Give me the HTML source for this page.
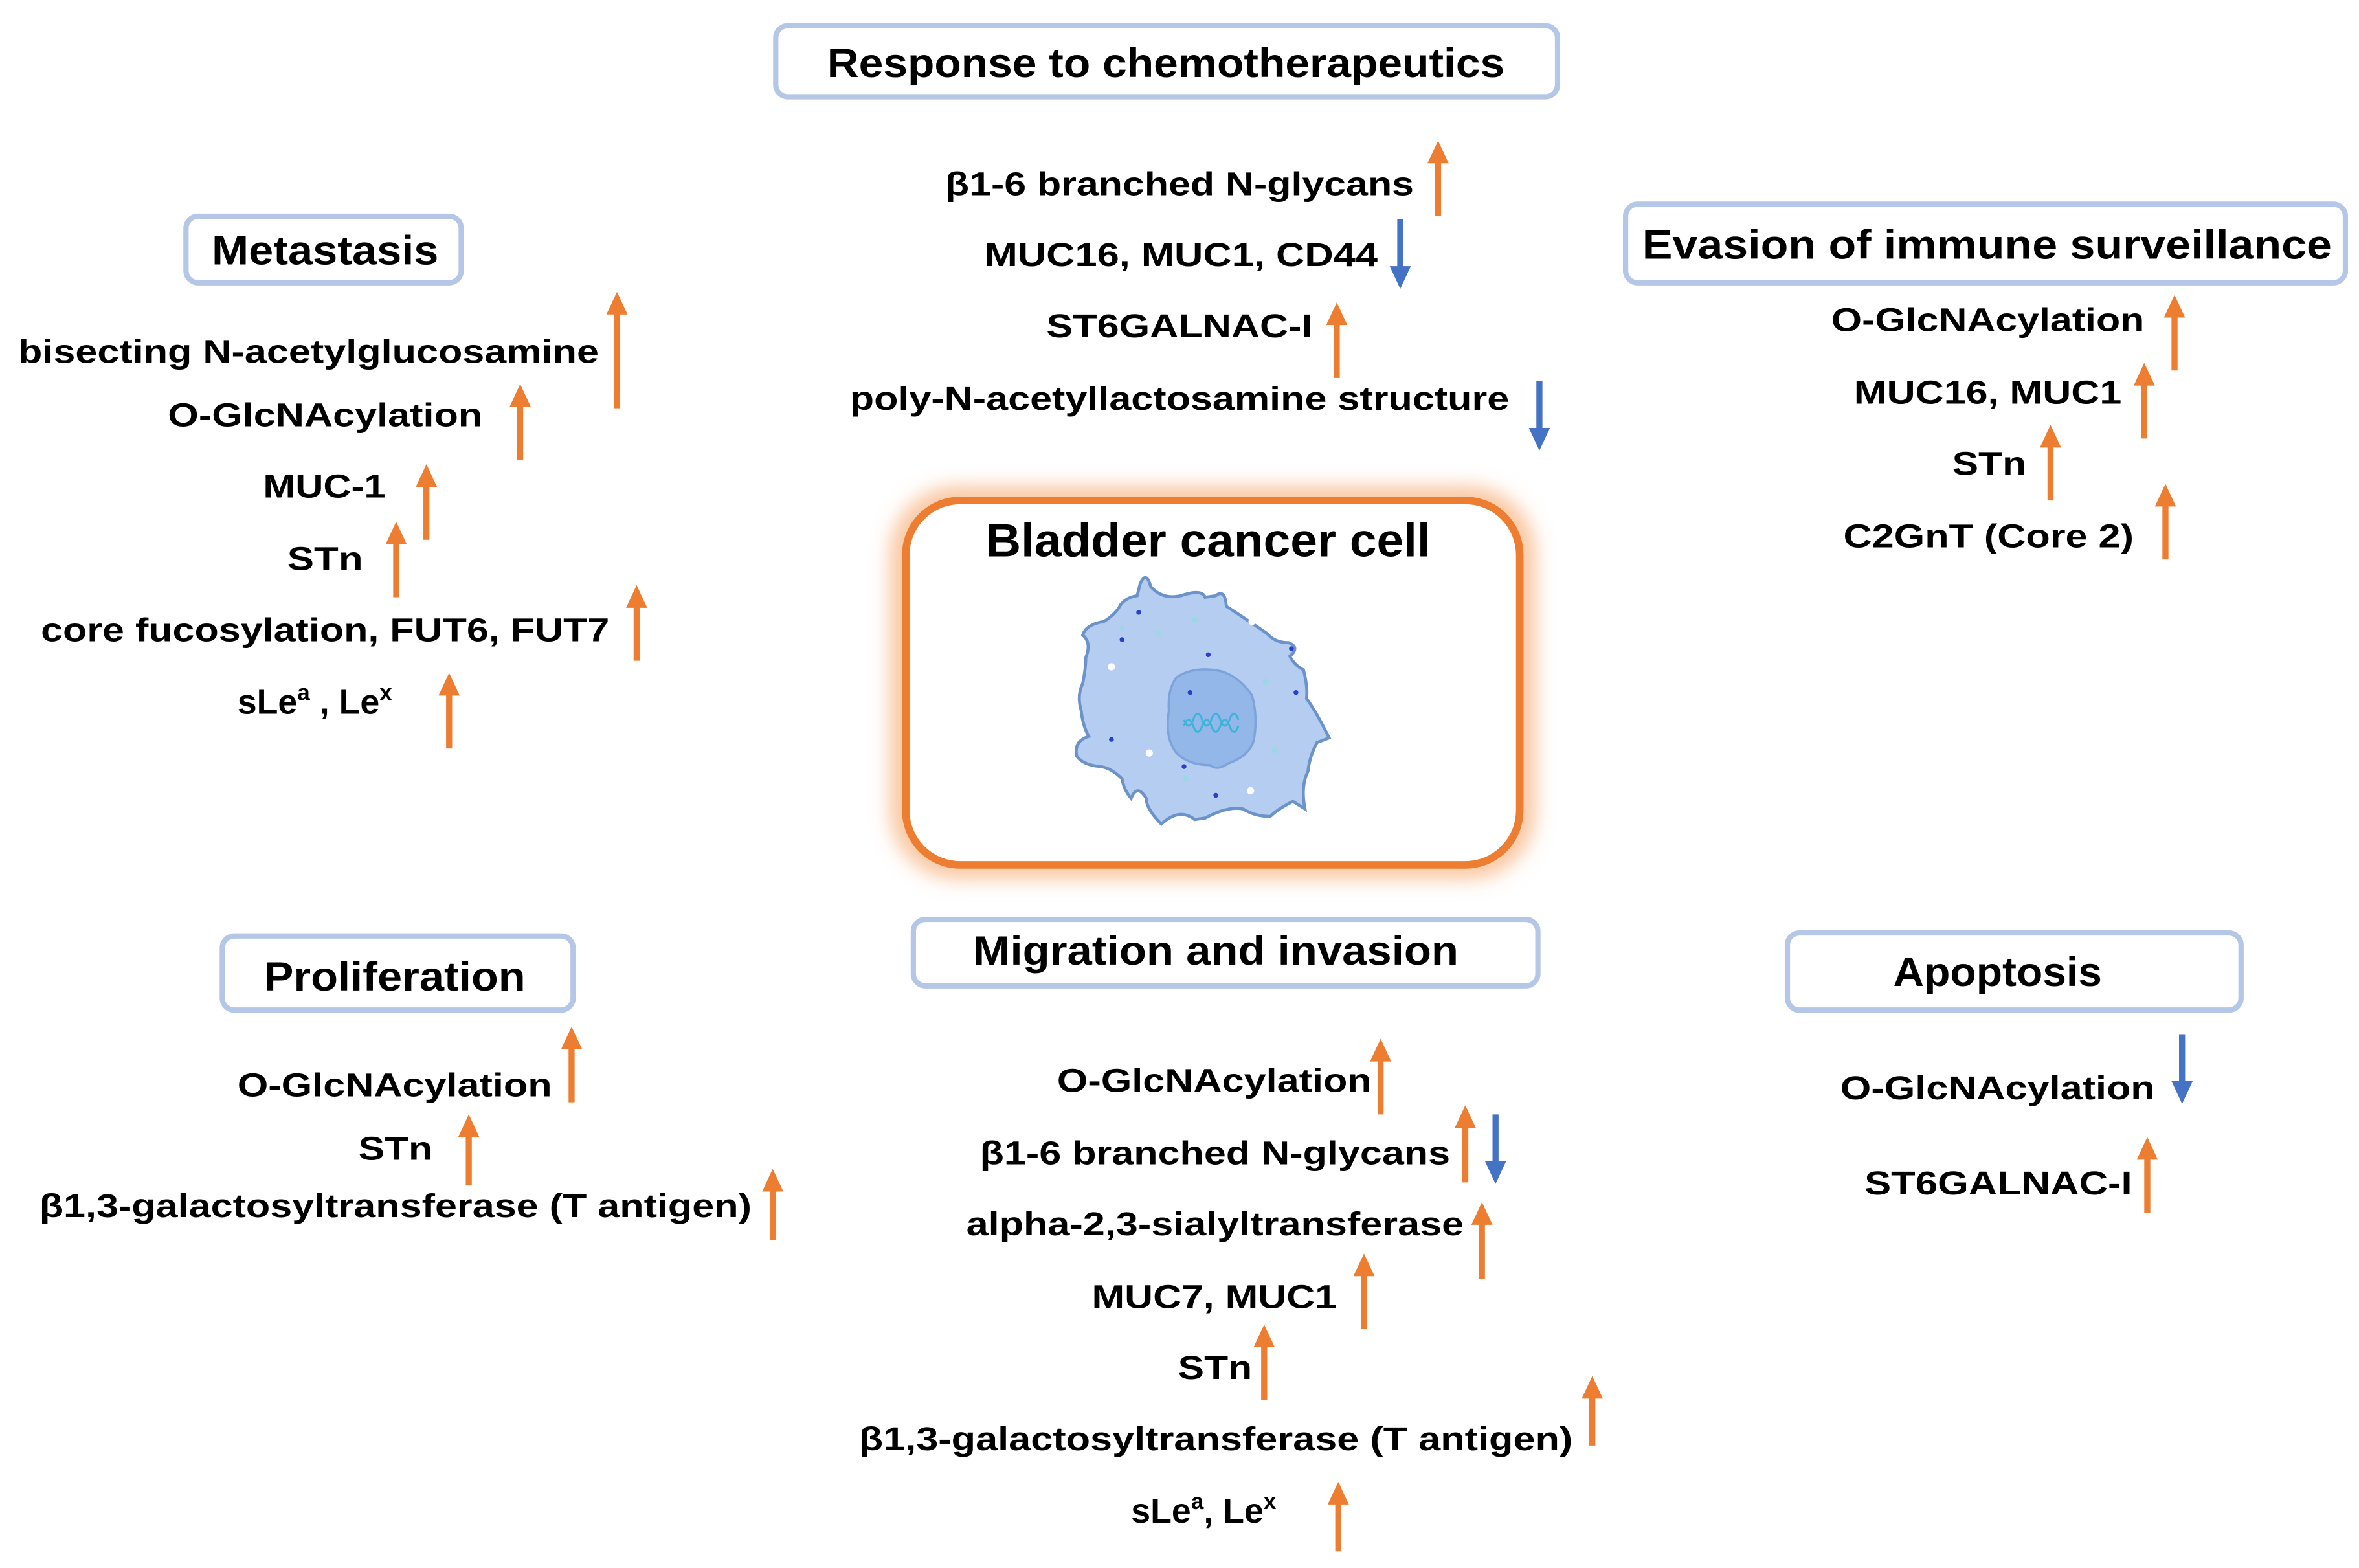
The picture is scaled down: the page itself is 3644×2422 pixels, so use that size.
<!DOCTYPE html>
<html><head><meta charset="utf-8"><style>
html,body{margin:0;padding:0;background:#fff;}
svg{display:block;}
text{font-family:"Liberation Sans",Arial,sans-serif;font-weight:bold;fill:#000;}
</style></head><body>
<svg width="3644" height="2422" viewBox="0 0 1560 1037" preserveAspectRatio="none" xmlns="http://www.w3.org/2000/svg">
<defs>
<filter id="glow" x="-20%" y="-20%" width="140%" height="140%"><feGaussianBlur stdDeviation="7"/></filter>
</defs>
<g fill="#fff" stroke="#B4C7E7" stroke-width="3.5">
<rect x="513" y="17" width="517" height="47" rx="8"/>
<rect x="123" y="143" width="182" height="44" rx="8"/>
<rect x="1075" y="135" width="476" height="52" rx="8"/>
<rect x="147" y="619" width="232" height="49" rx="8"/>
<rect x="604" y="608" width="413" height="44" rx="8"/>
<rect x="1182" y="617" width="300" height="51" rx="8"/>
</g>
<g font-size="27" text-anchor="middle">
<text x="771" y="51" textLength="448" lengthAdjust="spacingAndGlyphs">Response to chemotherapeutics</text>
<text x="215" y="175" textLength="150" lengthAdjust="spacingAndGlyphs">Metastasis</text>
<text x="1314" y="171" textLength="456" lengthAdjust="spacingAndGlyphs">Evasion of immune surveillance</text>
<text x="261" y="655" textLength="173" lengthAdjust="spacingAndGlyphs">Proliferation</text>
<text x="804" y="638" textLength="321" lengthAdjust="spacingAndGlyphs">Migration and invasion</text>
<text x="1321" y="652" textLength="138" lengthAdjust="spacingAndGlyphs">Apoptosis</text>
</g>
<rect x="597" y="330" width="410" height="243" rx="36" fill="none" stroke="#F8B98A" stroke-width="14" filter="url(#glow)"/>
<rect x="599" y="331" width="406" height="241" rx="36" fill="#fff" stroke="#ED7D31" stroke-width="5"/>
<text x="799" y="368" font-size="31" text-anchor="middle" textLength="294" lengthAdjust="spacingAndGlyphs">Bladder cancer cell</text>
<path d="M754,386 Q758,377 761,388 Q770,398 784,393 Q795,390 797,395 L804,394 Q810,389 811,401 Q825,410 838,419 Q843,425 852,425 Q860,428 853,434 Q856,440 862,443 Q865,455 864,462 Q870,470 879,488 L871,491 Q866,500 865,510 Q860,520 863,535 L855,530 Q845,535 840,540 Q830,540 822,535 Q812,533 797,541 L790,542 Q780,534 768,545 Q758,535 758,528 Q752,518 748,528 Q743,522 742,515 Q735,508 728,507 Q716,506 712,500 Q710,490 720,487 Q716,480 715,470 Q712,460 716,452 Q718,442 718,435 Q722,425 716,420 Q718,413 730,411 Q738,406 741,400 Q745,395 752,394 Z" fill="#B4CDF0" stroke="#6C93C9" stroke-width="2"/>
<path d="M778,448 Q790,440 808,444 Q820,448 828,460 Q832,475 829,490 Q826,500 812,505 Q805,510 800,506 Q786,506 778,498 Q770,488 773,470 Q772,456 778,448 Z" fill="#93B7E8" stroke="#7EA3DA" stroke-width="1.5"/>
<path d="M783,476 q3,8 6,0 q3,-8 6,0 q3,8 6,0 q3,-8 6,0 q3,8 6,0 q3,-8 6,0 M783,480 q3,-8 6,0 q3,8 6,0 q3,-8 6,0 q3,8 6,0 q3,-8 6,0 q3,8 6,0" fill="none" stroke="#3CB4D8" stroke-width="1.3"/>
<g fill="#2B3FC8"><circle cx="753" cy="405" r="1.6"/><circle cx="742" cy="423" r="1.6"/><circle cx="799" cy="433" r="1.6"/><circle cx="787" cy="458" r="1.6"/><circle cx="854" cy="429" r="1.6"/><circle cx="857" cy="458" r="1.6"/><circle cx="735" cy="489" r="1.6"/><circle cx="804" cy="526" r="1.6"/><circle cx="783" cy="507" r="1.6"/></g>
<g fill="#fff"><circle cx="828" cy="411" r="2.4"/><circle cx="735" cy="441" r="2.4"/><circle cx="760" cy="498" r="2.4"/><circle cx="827" cy="523" r="2.4"/></g>
<g fill="#9CD7E6"><circle cx="766" cy="419" r="2"/><circle cx="790" cy="410" r="2"/><circle cx="837" cy="451" r="2"/><circle cx="742" cy="415" r="1.6"/><circle cx="843" cy="496" r="2"/><circle cx="784" cy="515" r="2"/></g>
<g font-size="22">
<text x="12" y="240" textLength="384" lengthAdjust="spacingAndGlyphs">bisecting N-acetylglucosamine</text>
<text x="111" y="282" textLength="208" lengthAdjust="spacingAndGlyphs">O-GlcNAcylation</text>
<text x="174" y="329" textLength="81" lengthAdjust="spacingAndGlyphs">MUC-1</text>
<text x="190" y="377" textLength="50" lengthAdjust="spacingAndGlyphs">STn</text>
<text x="27" y="424" textLength="376" lengthAdjust="spacingAndGlyphs">core fucosylation, FUT6, FUT7</text>
<text x="157" y="472" font-size="23">sLe<tspan font-size="15" dy="-9">a</tspan><tspan font-size="23" dy="9"> , Le</tspan><tspan font-size="15" dy="-9">x</tspan></text>

<text x="625" y="129" textLength="310" lengthAdjust="spacingAndGlyphs">β1-6 branched N-glycans</text>
<text x="651" y="176" textLength="260" lengthAdjust="spacingAndGlyphs">MUC16, MUC1, CD44</text>
<text x="692" y="223" textLength="176" lengthAdjust="spacingAndGlyphs">ST6GALNAC-I</text>
<text x="562" y="271" textLength="436" lengthAdjust="spacingAndGlyphs">poly-N-acetyllactosamine structure</text>

<text x="1211" y="219" textLength="207" lengthAdjust="spacingAndGlyphs">O-GlcNAcylation</text>
<text x="1226" y="267" textLength="177" lengthAdjust="spacingAndGlyphs">MUC16, MUC1</text>
<text x="1291" y="314" textLength="49" lengthAdjust="spacingAndGlyphs">STn</text>
<text x="1219" y="362" textLength="192" lengthAdjust="spacingAndGlyphs">C2GnT (Core 2)</text>

<text x="157" y="725" textLength="208" lengthAdjust="spacingAndGlyphs">O-GlcNAcylation</text>
<text x="237" y="767" textLength="49" lengthAdjust="spacingAndGlyphs">STn</text>
<text x="26" y="805" textLength="471" lengthAdjust="spacingAndGlyphs">β1,3-galactosyltransferase (T antigen)</text>

<text x="699" y="722" textLength="208" lengthAdjust="spacingAndGlyphs">O-GlcNAcylation</text>
<text x="648" y="770" textLength="311" lengthAdjust="spacingAndGlyphs">β1-6 branched N-glycans</text>
<text x="639" y="817" textLength="329" lengthAdjust="spacingAndGlyphs">alpha-2,3-sialyltransferase</text>
<text x="722" y="865" textLength="162" lengthAdjust="spacingAndGlyphs">MUC7, MUC1</text>
<text x="779" y="912" textLength="49" lengthAdjust="spacingAndGlyphs">STn</text>
<text x="568" y="959" textLength="472" lengthAdjust="spacingAndGlyphs">β1,3-galactosyltransferase (T antigen)</text>
<text x="748" y="1007" font-size="23">sLe<tspan font-size="15" dy="-9">a</tspan><tspan font-size="23" dy="9">, Le</tspan><tspan font-size="15" dy="-9">x</tspan></text>

<text x="1217" y="727" textLength="208" lengthAdjust="spacingAndGlyphs">O-GlcNAcylation</text>
<text x="1233" y="790" textLength="177" lengthAdjust="spacingAndGlyphs">ST6GALNAC-I</text>
</g>
<g fill="#ED7D31" stroke="none">
<path d="M-7,15 L0,0 L7,15 L2,15 L2,77 L-2,77 L-2,15 Z" transform="translate(408,193)"/>
<path d="M-7,15 L0,0 L7,15 L2,15 L2,50 L-2,50 L-2,15 Z" transform="translate(344,254)"/>
<path d="M-7,15 L0,0 L7,15 L2,15 L2,50 L-2,50 L-2,15 Z" transform="translate(282,307)"/>
<path d="M-7,15 L0,0 L7,15 L2,15 L2,50 L-2,50 L-2,15 Z" transform="translate(262,345)"/>
<path d="M-7,15 L0,0 L7,15 L2,15 L2,50 L-2,50 L-2,15 Z" transform="translate(421,387)"/>
<path d="M-7,15 L0,0 L7,15 L2,15 L2,50 L-2,50 L-2,15 Z" transform="translate(297,445)"/>
<path d="M-7,15 L0,0 L7,15 L2,15 L2,50 L-2,50 L-2,15 Z" transform="translate(951,93)"/>
<path d="M-7,15 L0,0 L7,15 L2,15 L2,50 L-2,50 L-2,15 Z" transform="translate(884,200)"/>
<path d="M-7,15 L0,0 L7,15 L2,15 L2,50 L-2,50 L-2,15 Z" transform="translate(1438,195)"/>
<path d="M-7,15 L0,0 L7,15 L2,15 L2,50 L-2,50 L-2,15 Z" transform="translate(1418,240)"/>
<path d="M-7,15 L0,0 L7,15 L2,15 L2,50 L-2,50 L-2,15 Z" transform="translate(1356,281)"/>
<path d="M-7,15 L0,0 L7,15 L2,15 L2,50 L-2,50 L-2,15 Z" transform="translate(1432,320)"/>
<path d="M-7,15 L0,0 L7,15 L2,15 L2,50 L-2,50 L-2,15 Z" transform="translate(378,679)"/>
<path d="M-7,15 L0,0 L7,15 L2,15 L2,47 L-2,47 L-2,15 Z" transform="translate(310,737)"/>
<path d="M-7,15 L0,0 L7,15 L2,15 L2,47 L-2,47 L-2,15 Z" transform="translate(511,773)"/>
<path d="M-7,15 L0,0 L7,15 L2,15 L2,50 L-2,50 L-2,15 Z" transform="translate(913,687)"/>
<path d="M-7,15 L0,0 L7,15 L2,15 L2,51 L-2,51 L-2,15 Z" transform="translate(969,731)"/>
<path d="M-7,15 L0,0 L7,15 L2,15 L2,51 L-2,51 L-2,15 Z" transform="translate(980,795)"/>
<path d="M-7,15 L0,0 L7,15 L2,15 L2,50 L-2,50 L-2,15 Z" transform="translate(902,829)"/>
<path d="M-7,15 L0,0 L7,15 L2,15 L2,50 L-2,50 L-2,15 Z" transform="translate(836,876)"/>
<path d="M-7,15 L0,0 L7,15 L2,15 L2,46 L-2,46 L-2,15 Z" transform="translate(1053,910)"/>
<path d="M-7,15 L0,0 L7,15 L2,15 L2,46 L-2,46 L-2,15 Z" transform="translate(885,980)"/>
<path d="M-7,15 L0,0 L7,15 L2,15 L2,50 L-2,50 L-2,15 Z" transform="translate(1420,752)"/>
</g>
<g fill="#4472C4">
<path d="M-2,0 L2,0 L2,31 L7,31 L0,46 L-7,31 L-2,31 Z" transform="translate(926,145)"/>
<path d="M-2,0 L2,0 L2,31 L7,31 L0,46 L-7,31 L-2,31 Z" transform="translate(1018,252)"/>
<path d="M-2,0 L2,0 L2,31 L7,31 L0,46 L-7,31 L-2,31 Z" transform="translate(989,737)"/>
<path d="M-2,0 L2,0 L2,31 L7,31 L0,46 L-7,31 L-2,31 Z" transform="translate(1443,684)"/>
</g>
</svg>
</body></html>
